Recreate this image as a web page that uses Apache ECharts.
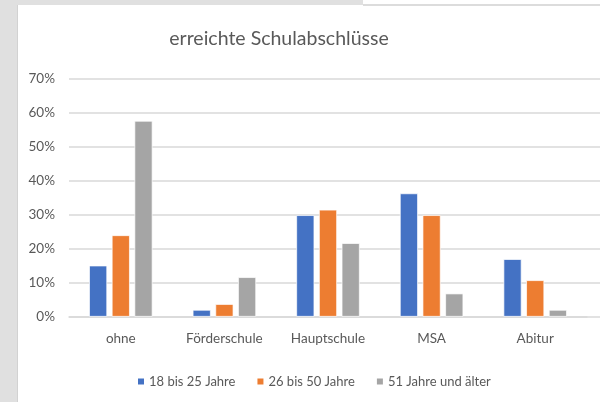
<!DOCTYPE html>
<html><head><meta charset="utf-8">
<script src="https://cdn.jsdelivr.net/npm/echarts@6/dist/echarts.min.js"></script>
<style>
html,body{margin:0;padding:0;background:#fff;}
#bgL{position:absolute;left:0;top:0;width:17px;height:402px;background:#e0e0e0;border-right:1px solid #d2d2d2;}
#bgT{position:absolute;left:0;top:0;width:363px;height:5px;background:#e0e0e0;}
#bgT2{position:absolute;left:363px;top:4px;width:237px;height:2px;background:#dcdcdc;}
#c{position:absolute;left:0;top:0;width:600px;height:402px;}
</style></head>
<body>
<div id="bgL"></div><div id="bgT"></div><div id="bgT2"></div>
<div id="c"></div>
<script>
const categories = ['ohne', 'Förderschule', 'Hauptschule', 'MSA', 'Abitur'];
const seriesNames = ['18 bis 25 Jahre', '26 bis 50 Jahre', '51 Jahre und älter'];
const age18to25 = [0.15, 0.02, 0.298, 0.362, 0.169];
const age26to50 = [0.239, 0.037, 0.314, 0.298, 0.107];
const age51plus = [0.575, 0.116, 0.216, 0.068, 0.02];
const yTicks = [0, 0.1, 0.2, 0.3, 0.4, 0.5, 0.6, 0.7];

const colors = ['#4472C4', '#ED7D31', '#A5A5A5'];
const font = 'Lato, "Open Sans", sans-serif';
const txt = '#595959';
const chart = echarts.init(document.getElementById('c'), null, {renderer:'canvas'});
const values = [age18to25, age26to50, age51plus];
chart.setOption({
  backgroundColor: 'transparent',
  animation: false,
  color: colors,
  title: {
    text: 'erreichte Schulabschlüsse',
    left: 279, top: 29, textAlign: 'center', padding: 0,
    textStyle: {fontFamily: font, fontSize: 19.5, fontWeight: 'normal', color: txt}
  },
  legend: {
    data: seriesNames,
    left: 136, top: 375, padding: 0,
    itemWidth: 8, itemHeight: 8, itemGap: 20,
    icon: 'rect',
    textStyle: {fontFamily: font, fontSize: 13, color: txt, padding: [0,0,0,-1]}
  },
  grid: [
    {left: 69, right: 13, top: 78.3, bottom: 85.3},
    {left: 69, right: 0, top: 78.3, bottom: 85.3}
  ],
  xAxis: [
    {type: 'category', data: categories, gridIndex: 0,
     axisLine: {show: true, lineStyle: {color: '#d9d9d9', width: 1.5}},
     axisTick: {show: false},
     axisLabel: {fontFamily: font, fontSize: 13.5, color: txt, margin: 15}},
    {type: 'value', gridIndex: 1, min: 0, max: 1, show: false}
  ],
  yAxis: [
    {type: 'value', gridIndex: 0, min: 0, max: yTicks[yTicks.length-1], interval: 0.1,
     axisLine: {show: false}, axisTick: {show: false}, splitLine: {show: false},
     axisLabel: {fontFamily: font, fontSize: 13.5, color: txt, margin: 14,
       formatter: v => Math.round(v*100) + '%'}},
    {type: 'value', gridIndex: 1, min: 0, max: yTicks[yTicks.length-1], interval: 0.1,
     axisLine: {show: false}, axisTick: {show: false}, axisLabel: {show: false},
     splitLine: {show: true, lineStyle: {color: '#d9d9d9', width: 1.5}}}
  ],
  series: seriesNames.map((n, i) => ({
    name: n, type: 'bar', xAxisIndex: 0, yAxisIndex: 0,
    data: values[i], barWidth: 18, barGap: '26%',
    itemStyle: {color: colors[i], borderColor: '#fff', borderWidth: 0.7},
    z: 3
  }))
});
</script>
</body></html>
